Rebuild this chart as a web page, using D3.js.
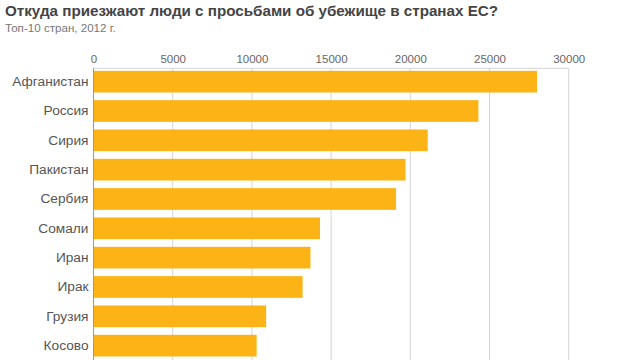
<!DOCTYPE html>
<html>
<head>
<meta charset="utf-8">
<script src="https://cdn.jsdelivr.net/npm/d3@7"></script>
<style>
  html, body { margin: 0; padding: 0; background: #fff; overflow: hidden; }
  svg { display: block; font-family: "Liberation Sans", Arial, sans-serif; }
</style>
</head>
<body>
<svg id="chart" width="640" height="360"></svg>
<script>
const countries = ["Афганистан", "Россия", "Сирия", "Пакистан", "Сербия", "Сомали", "Иран", "Ирак", "Грузия", "Косово"];
const applications = [28000, 24300, 21100, 19700, 19100, 14300, 13700, 13200, 10900, 10300];
const tickValues = [0, 5000, 10000, 15000, 20000, 25000, 30000];
const titleText = "Откуда приезжают люди с просьбами об убежище в странах ЕС?";
const subtitleText = "Топ-10 стран, 2012 г.";

const svg = d3.select("#chart");
const plotLeft = 93.5, plotRight = 568.7, plotTop = 68.3;

const x = d3.scaleLinear().domain([0, 30000]).range([plotLeft, plotRight]);
const step = 29.33;
const y = d3.scaleBand().domain(countries)
  .range([plotTop - 1.3, plotTop - 1.3 + step * 10])
  .paddingInner(0.26).paddingOuter(0.13);

// title
svg.append("text").attr("x", 5).attr("y", 15.5)
  .attr("font-size", 15.2).attr("font-weight", "bold").attr("fill", "#444")
  .text(titleText);
svg.append("text").attr("x", 5).attr("y", 32)
  .attr("font-size", 11.6).attr("fill", "#777")
  .text(subtitleText);

// grid
const grid = svg.append("g");
grid.selectAll("line.v").data(tickValues.slice(1)).join("line")
  .attr("x1", d => x(d)).attr("x2", d => x(d))
  .attr("y1", plotTop).attr("y2", 360)
  .attr("stroke", "#d4d4d4").attr("stroke-width", 1);
grid.append("line").attr("x1", plotLeft).attr("x2", plotRight)
  .attr("y1", plotTop).attr("y2", plotTop)
  .attr("stroke", "#d4d4d4").attr("stroke-width", 1);

// top axis labels
const xAxis = d3.axisTop(x).tickValues(tickValues).tickSize(0).tickPadding(0).tickFormat(d3.format("d"));
const ax = svg.append("g").attr("transform", `translate(0,${plotTop - 5.5})`).call(xAxis);
ax.select(".domain").remove();
ax.selectAll("text").attr("font-size", 11.5).attr("fill", "#666")
  .attr("font-family", "'Liberation Sans', Arial, sans-serif");

// bars
svg.append("g").selectAll("rect").data(countries).join("rect")
  .attr("x", plotLeft)
  .attr("y", d => y(d))
  .attr("width", (d, i) => x(applications[i]) - plotLeft)
  .attr("height", y.bandwidth())
  .attr("fill", "#fcb316");

// y axis
const yAxis = d3.axisLeft(y).tickSize(0).tickPadding(5);
const ay = svg.append("g").attr("transform", `translate(${plotLeft},0)`).call(yAxis);
ay.select(".domain").attr("stroke", "#999").attr("d", `M0,${plotTop}V360`);
ay.selectAll("text").attr("font-size", 13.7).attr("fill", "#555")
  .attr("font-family", "'Liberation Sans', Arial, sans-serif");
</script>
</body>
</html>
